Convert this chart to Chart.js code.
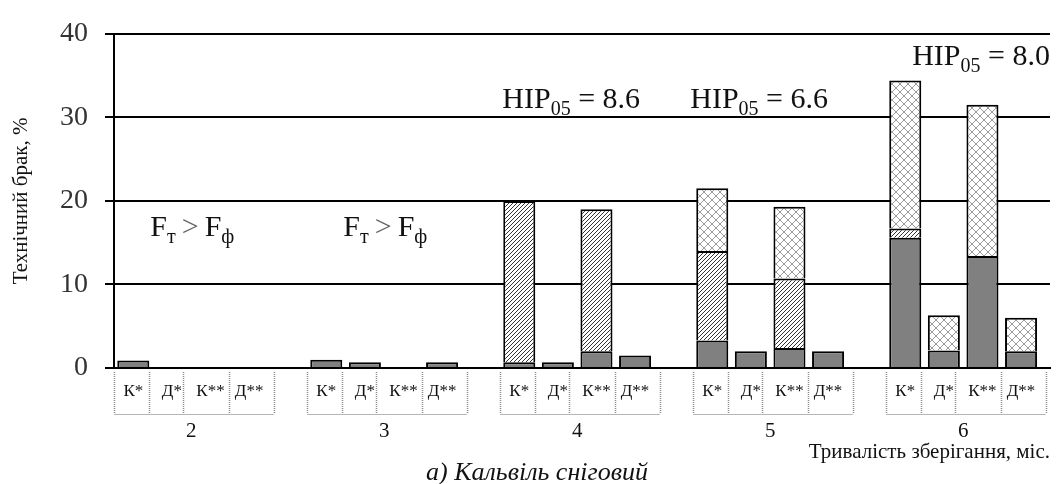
<!DOCTYPE html>
<html>
<head>
<meta charset="utf-8">
<script src="https://cdn.jsdelivr.net/npm/chart.js@4.4.0/dist/chart.umd.min.js"></script>
<style>
  html, body { margin: 0; padding: 0; background: #fff; }
  #wrap { width: 1057px; height: 484px; }
</style>
</head>
<body>
<div id="wrap"><canvas id="brak-chart" width="1057" height="484"></canvas></div>
<script>
var months = ['2', '3', '4', '5', '6'];
var variants = ['К*', 'Д*', 'К**', 'Д**'];
var yTicks = [0, 10, 20, 30, 40];

// parts of each bar, order: К*, Д*, К**, Д** for every month
var darkPart  = [0.9, 0, 0, 0,   1.0, 0.7, 0, 0.7,   0.7, 0.7, 2.0, 1.5,   3.3, 2.0, 2.4, 2.0,   15.6, 2.1, 13.4, 2.0];
var hatchPart = [0, 0, 0, 0,     0, 0, 0, 0,         19.3, 0, 17.0, 0,     10.7, 0, 8.3, 0,      1.1, 0, 0, 0];
var crossPart = [0, 0, 0, 0,     0, 0, 0, 0,         0, 0, 0, 0,           7.5, 0, 8.6, 0,       17.7, 4.2, 18.1, 4.0];

// text notes, placed in axis units (slot, value of baseline)
var notes = [
    {x: 0.44, y: 15.8, parts: [['F', 0], ['т', 1], ['\u2009>\u2009', 0, '#666'], ['F', 0], ['ф', 1]]},
    {x: 5.44, y: 15.8, parts: [['F', 0], ['т', 1], ['\u2009>\u2009', 0, '#666'], ['F', 0], ['ф', 1]]},
    {x: 9.56, y: 31.1, parts: [['НІР', 0], ['05', 1], [' = 8.6', 0]]},
    {x: 14.43, y: 31.1, parts: [['НІР', 0], ['05', 1], [' = 6.6', 0]]},
    {x: 20.18, y: 36.3, parts: [['НІР', 0], ['05', 1], [' = 8.0', 0]]}
];

var serif = "'Liberation Serif', 'Times New Roman', serif";

function slotOf(i) {
    return Math.floor(i / 4) * 5 + i % 4;
}
function toPoints(arr) {
    return arr.map(function(v, i) {
        return {x: slotOf(i), y: v ? v : null};
    });
}

function makePattern(size, draw) {
    var c = document.createElement('canvas');
    c.width = size; c.height = size;
    var g = c.getContext('2d');
    g.fillStyle = '#fff';
    g.fillRect(0, 0, size, size);
    draw(g, size);
    return g.createPattern(c, 'repeat');
}

var hatchFill = makePattern(4, function(g, s) {
    g.strokeStyle = '#333';
    g.lineWidth = 1;
    g.beginPath();
    g.moveTo(-1, s + 1); g.lineTo(s + 1, -1);
    g.moveTo(-1, 1); g.lineTo(1, -1);
    g.moveTo(s - 1, s + 1); g.lineTo(s + 1, s - 1);
    g.stroke();
});

var crossFill = makePattern(8, function(g, s) {
    g.strokeStyle = '#9a9a9a';
    g.lineWidth = 1;
    g.beginPath();
    g.moveTo(0, 0); g.lineTo(s, s);
    g.moveTo(0, s); g.lineTo(s, 0);
    g.stroke();
});

var slotTicks = [];
for (var i = 0; i < months.length * variants.length; i++) slotTicks.push(slotOf(i));

var extras = {
    id: 'extras',
    afterDraw: function(chart) {
        var ctx = chart.ctx;
        var xs = chart.scales.x, ys = chart.scales.y;
        var boxW = [0.9, 0.9, 1.17, 1.17];
        ctx.save();

        // label boxes under the axis
        months.forEach(function(m, g) {
            var pos = g * 5 - 0.5;
            var edges = [pos];
            boxW.forEach(function(w) { pos += w; edges.push(pos); });
            var px = edges.map(function(e) { return xs.getPixelForValue(e); });
            ctx.setLineDash([1, 1]);
            ctx.strokeStyle = '#8a8a8a';
            ctx.lineWidth = 1.5;
            px.forEach(function(p) {
                ctx.beginPath();
                ctx.moveTo(Math.round(p) + 0.5, 372);
                ctx.lineTo(Math.round(p) + 0.5, 414);
                ctx.stroke();
            });
            ctx.setLineDash([]);
            ctx.strokeStyle = '#b5b5b5';
            ctx.lineWidth = 1;
            ctx.beginPath();
            ctx.moveTo(px[0], 414.5);
            ctx.lineTo(px[px.length - 1], 414.5);
            ctx.stroke();

            ctx.fillStyle = '#111';
            ctx.font = '21px ' + serif;
            ctx.textAlign = 'center';
            ctx.textBaseline = 'middle';
            ctx.fillText(m, xs.getPixelForValue(g * 5 + 1.5), 431);
        });

        // notes with subscripts
        ctx.textAlign = 'left';
        ctx.textBaseline = 'alphabetic';
        notes.forEach(function(n) {
            var x = xs.getPixelForValue(n.x);
            var y = ys.getPixelForValue(n.y);
            n.parts.forEach(function(p) {
                ctx.font = (p[1] ? '20px ' : '30px ') + serif;
                ctx.fillStyle = p[2] || '#111';
                ctx.fillText(p[0], x, y + (p[1] ? 7 : 0));
                x += ctx.measureText(p[0]).width;
            });
        });

        // caption
        ctx.fillStyle = '#111';
        ctx.font = 'italic 26px ' + serif;
        ctx.textAlign = 'center';
        ctx.textBaseline = 'alphabetic';
        ctx.fillText('а) Кальвіль сніговий', 537, 480);
        ctx.restore();
    }
};

var ctx = document.getElementById('brak-chart').getContext('2d');
new Chart(ctx, {
    type: 'bar',
    data: {
        datasets: [
            {label: 'dark', data: toPoints(darkPart), backgroundColor: '#808080'},
            {label: 'hatch', data: toPoints(hatchPart), backgroundColor: hatchFill},
            {label: 'cross', data: toPoints(crossPart), backgroundColor: crossFill}
        ].map(function(d) {
            d.borderColor = '#000';
            d.borderWidth = 2;
            d.borderSkipped = 'start';
            d.barPercentage = 0.83;
            d.categoryPercentage = 1;
            return d;
        })
    },
    options: {
        responsive: false,
        animation: false,
        layout: {padding: {top: 26, right: 7, left: 0, bottom: 0}},
        scales: {
            x: {
                type: 'linear',
                stacked: true,
                offset: false,
                min: -0.5,
                max: 23.75,
                afterBuildTicks: function(scale) {
                    scale.ticks = slotTicks.map(function(s) { return {value: s}; });
                },
                afterFit: function(scale) { scale.height = 116; },
                grid: {display: false, offset: false},
                border: {display: true, color: '#000', width: 2},
                ticks: {
                    autoSkip: false,
                    maxRotation: 0,
                    padding: 5,
                    color: '#111',
                    font: {family: serif, size: 17},
                    callback: function(value) {
                        return variants[value % 5] || '';
                    }
                },
                title: {
                    display: true,
                    text: 'Тривалість зберігання, міс.',
                    align: 'end',
                    color: '#111',
                    font: {family: serif, size: 21},
                    padding: {top: 0, bottom: 19}
                }
            },
            y: {
                stacked: true,
                min: 0,
                max: 40,
                afterBuildTicks: function(scale) {
                    scale.ticks = yTicks.map(function(v) { return {value: v}; });
                },
                afterFit: function(scale) { scale.width = 114; },
                grid: {color: '#000', lineWidth: 2, tickLength: 9},
                border: {display: true, color: '#000', width: 2},
                ticks: {
                    padding: 17,
                    color: '#333',
                    font: {family: serif, size: 28}
                },
                title: {
                    display: true,
                    text: 'Технічний брак, %',
                    color: '#111',
                    font: {family: serif, size: 21},
                    padding: {top: 9, bottom: 0}
                }
            }
        },
        plugins: {
            legend: {display: false},
            tooltip: {enabled: false}
        }
    },
    plugins: [extras]
});
</script>
</body>
</html>
